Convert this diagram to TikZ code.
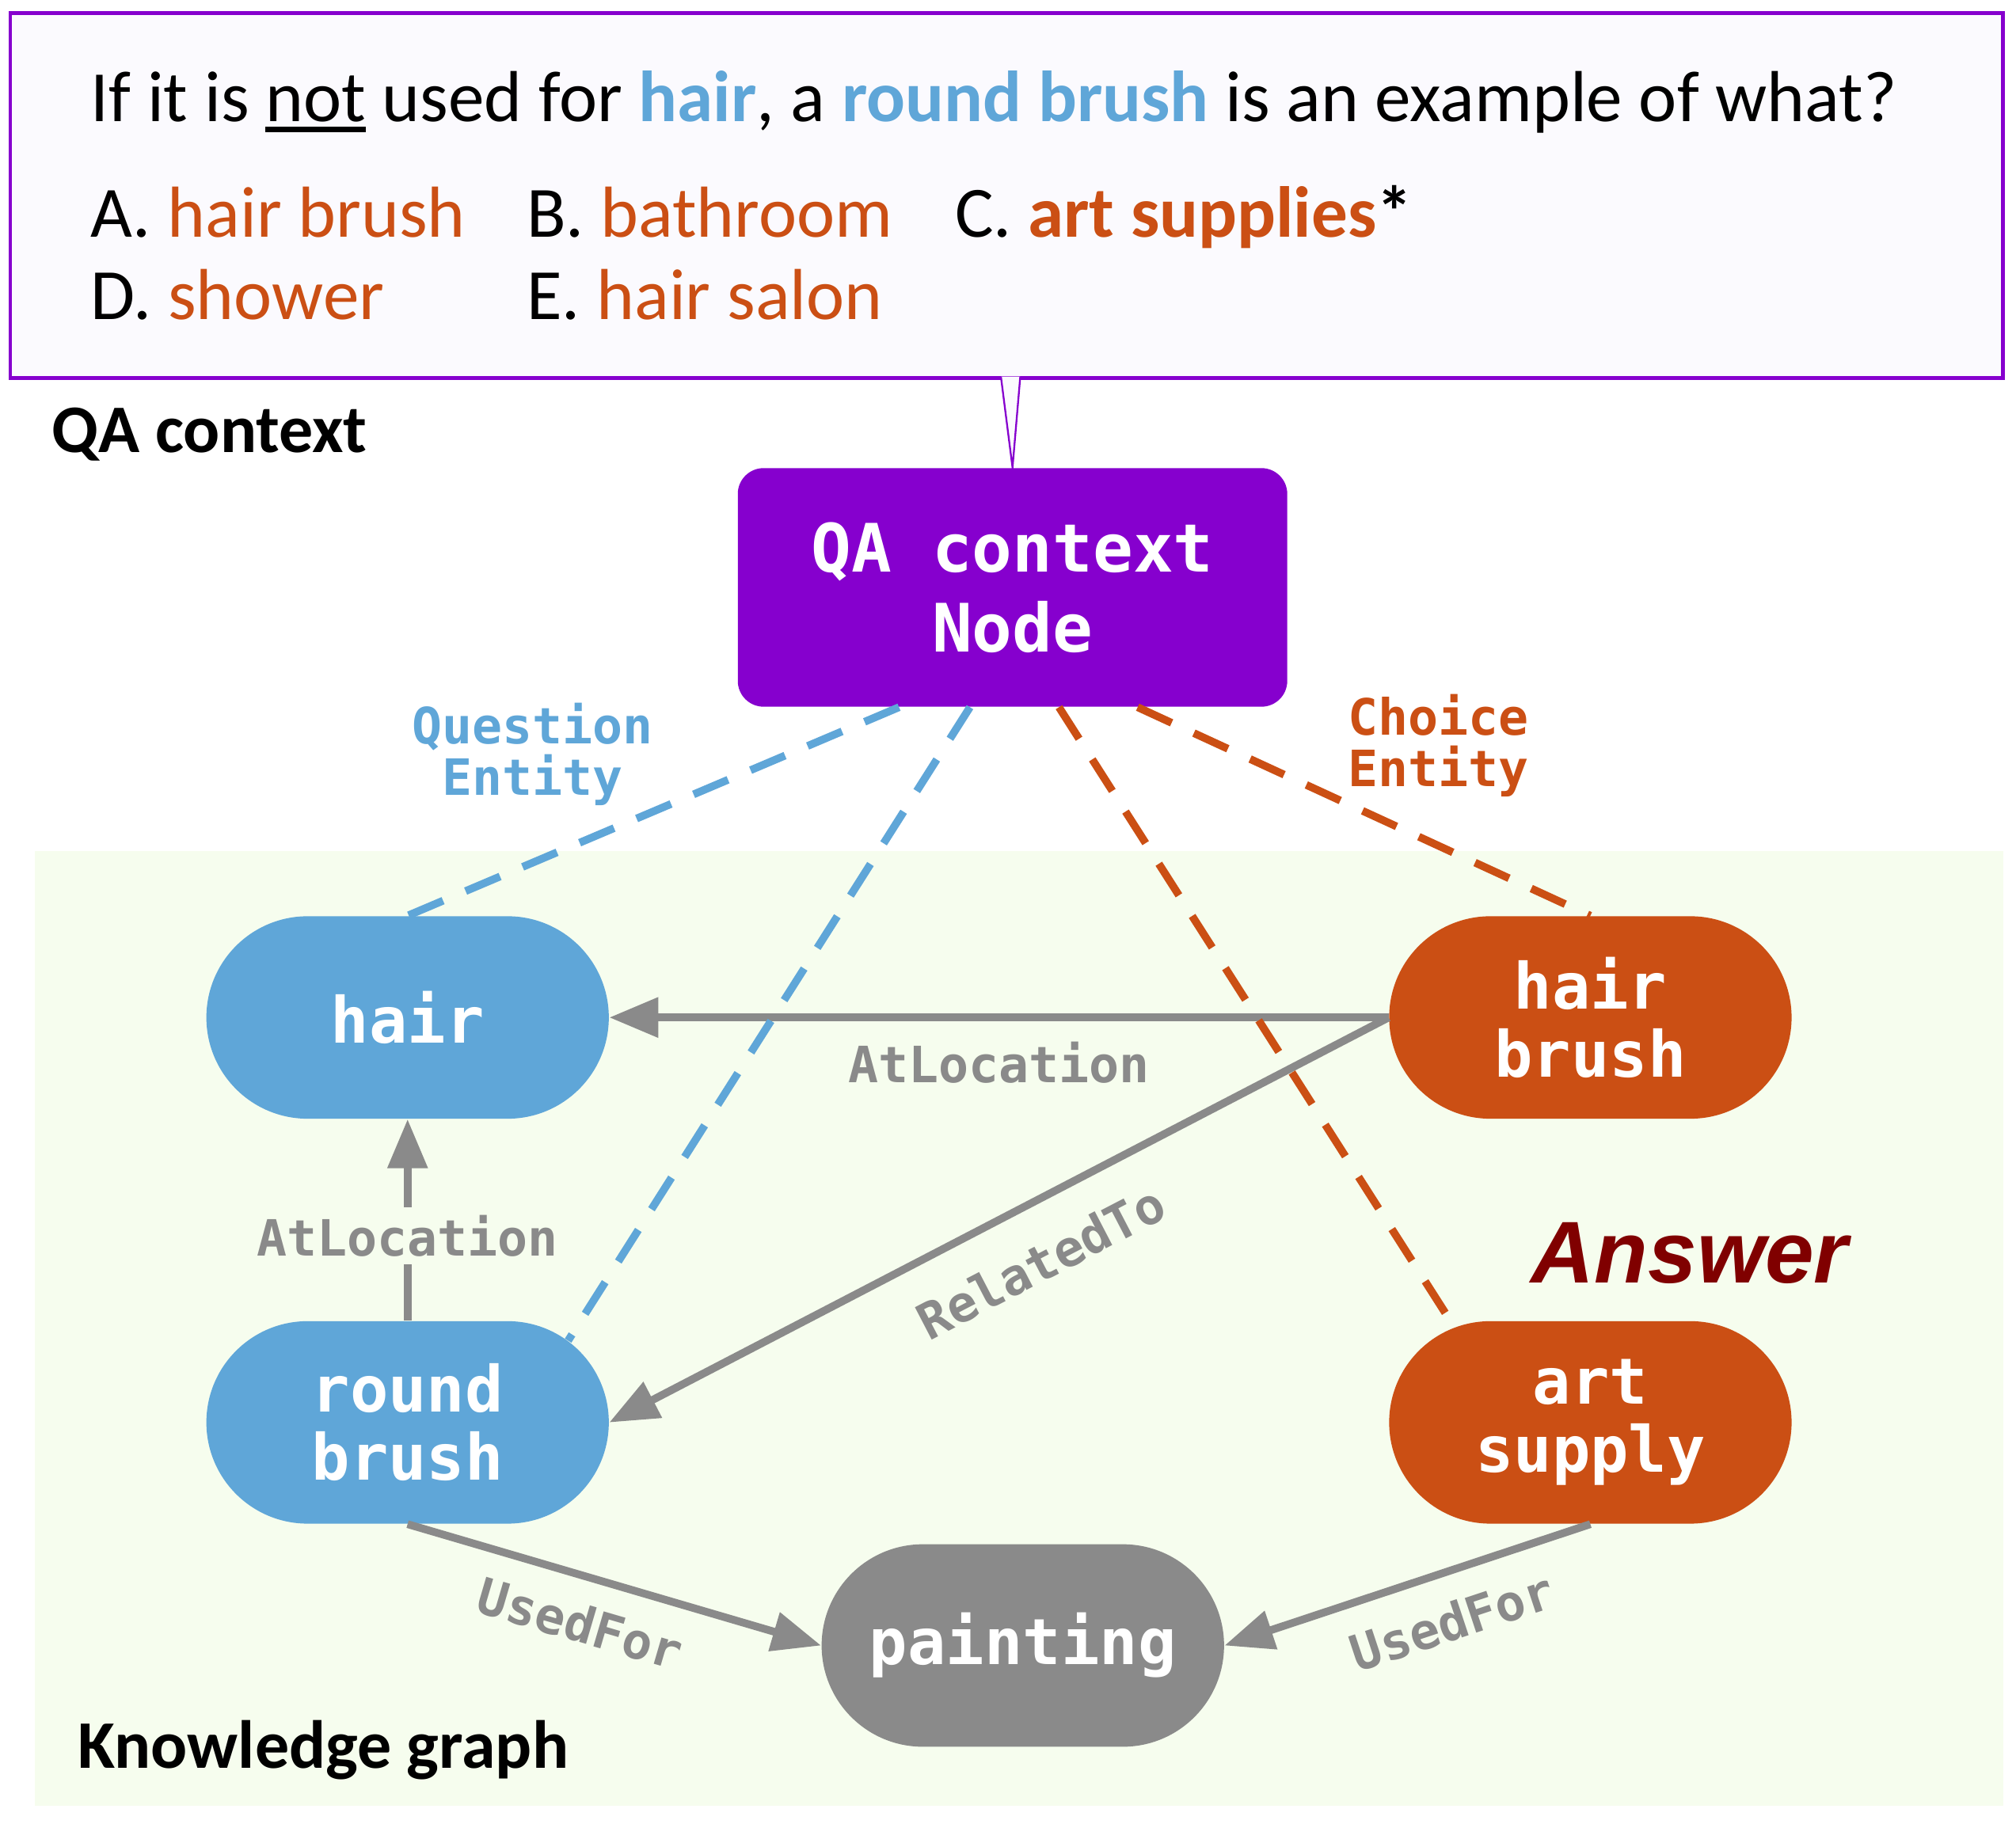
\documentclass[tikz,border=0pt]{standalone}
\usepackage{fontspec}
\setmainfont{Carlito}
\newfontfamily\monofont{DejaVu Sans Mono}
\newfontfamily\answerfont{Liberation Sans}
\usetikzlibrary{shapes.misc,arrows.meta}

\definecolor{qapurple}{HTML}{8600CE}
\definecolor{qblue}{HTML}{5FA6D8}
\definecolor{corange}{HTML}{CB4F14}
\definecolor{relgray}{HTML}{8A8A8A}
\definecolor{kgbg}{HTML}{F6FDEE}
\definecolor{boxbg}{HTML}{FBFAFE}
\definecolor{ansred}{HTML}{800000}

\newcommand{\ulword}[1]{\setbox0\hbox{#1}\rlap{\rule[-4.2pt]{\wd0}{2pt}}\box0\relax}

\begin{document}
\begin{tikzpicture}[x=0.5pt,y=-0.5pt]
	\tikzstyle{entity}=[rounded rectangle,minimum width=156pt,minimum height=78.5pt,inner sep=0pt,text=white,align=center,font=\monofont\bfseries\fontsize{24.7}{26.5}\selectfont]
	\tikzstyle{relation}=[draw=relgray,line width=3pt,-{Triangle[length=19pt,width=15pt]}]
	\tikzstyle{link}=[line width=3pt,dash pattern=on 14.5pt off 9.5pt]
	\tikzstyle{rellabel}=[text=relgray,font=\monofont\bfseries\fontsize{19.4}{20}\selectfont,inner sep=3pt]
	\tikzstyle{choice}=[anchor=base west,inner sep=0pt,font=\fontsize{28}{33}\selectfont]
	\tikzstyle{panel}=[anchor=base west,inner sep=0pt,font=\bfseries\fontsize{26.4}{30}\selectfont]
	\useasboundingbox (0,0) rectangle (1563,1414);
	% backgrounds
	\fill[kgbg] (27,660) rectangle (1553,1400);
	\draw[qapurple,line width=1.5pt,fill=boxbg] (8,10) rectangle (1553,293);
	% question and choices
	\node[choice] (question) at (70,94) {If it is \ulword{not} used for \textbf{\color{qblue}hair}, a \textbf{\color{qblue}round brush} is an example of what?};
	\node[choice] (optA) at (70,184) {A. \textcolor{corange}{hair brush}};
	\node[choice] (optB) at (408,184) {B. \textcolor{corange}{bathroom}};
	\node[choice] (optC) at (740,184) {C. \textbf{\textcolor{corange}{art supplies}*}};
	\node[choice] (optD) at (70,248) {D. \textcolor{corange}{shower}};
	\node[choice] (optE) at (408,248) {E. \textcolor{corange}{hair salon}};
	\node[panel] (qatitle) at (40,351) {QA context};
	\node[panel] (kgtitle) at (60,1371) {Knowledge graph};
	% QA context node
	\node[rectangle,rounded corners=10pt,fill=qapurple,minimum width=213pt,minimum height=92.5pt,text=white,align=center,font=\monofont\bfseries\fontsize{25.9}{31}\selectfont] (qa) at (785,455.5) {QA context\\Node};
	\coordinate (tailL) at (776,292);
	\coordinate (tailR) at (791,292);
	\fill[boxbg] (tailL) -- (qa.north) -- (tailR) -- cycle;
	\draw[qapurple,line width=0.7pt] (tailL) -- (qa.north) -- (tailR);
	% graph nodes
	\node[entity,fill=qblue] (hair) at (316,789) {hair};
	\node[entity,fill=corange] (hbrush) at (1233,789) {hair\\brush};
	\node[entity,fill=qblue] (rbrush) at (316,1103) {round\\brush};
	\node[entity,fill=corange] (asupply) at (1233,1103) {art\\supply};
	\node[entity,fill=relgray] (paint) at (793,1276) {painting};
	% relations
	\draw[relation] (hbrush.west) -- node[rellabel,below=5pt] {AtLocation} (hair.east);
	\draw[relation] (rbrush.north) -- node[rellabel,fill=kgbg,pos=0.42] {AtLocation} (hair.south);
	\draw[relation] (hbrush.west) -- node[rellabel,sloped,below=10pt,pos=0.48] {RelatedTo} (rbrush.east);
	\draw[relation] (rbrush.south) -- node[rellabel,sloped,below=6pt,pos=0.45] {UsedFor} (paint.west);
	\draw[relation] (asupply.south) -- node[rellabel,sloped,below=7pt,pos=0.42] {UsedFor} (paint.east);
	% entity links
	\draw[link,qblue] ([xshift=-44pt]qa.south) -- (hair.north);
	\draw[link,qblue] ([xshift=-16.5pt]qa.south) -- (rbrush.27);
	\draw[link,corange] ([xshift=18pt]qa.south) -- (asupply.145);
	\draw[link,corange] ([xshift=48.5pt]qa.south) -- (hbrush.north);
	\node[rellabel,text=qblue,align=center] (qlabel) at (413,585) {Question\\Entity};
	\node[rellabel,text=corange,align=center] (clabel) at (1115,578) {Choice\\Entity};
	\node[text=ansred,font=\answerfont\bfseries\itshape\fontsize{34}{40}\selectfont] (answer) at (1310,972) {Answer};
\end{tikzpicture}
\end{document}
